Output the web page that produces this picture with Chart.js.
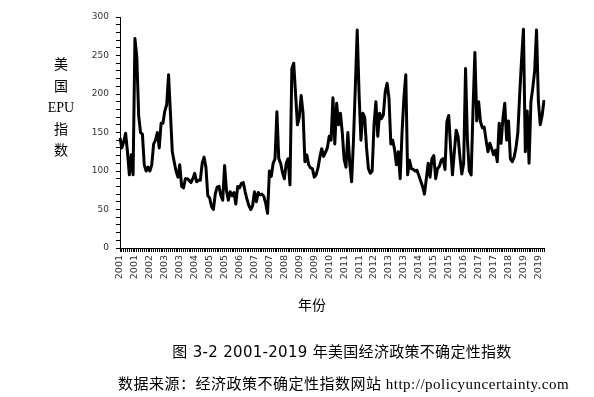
<!DOCTYPE html>
<html>
<head>
<meta charset="utf-8">
<script src="https://cdn.jsdelivr.net/npm/chart.js@4"></script>
<style>
  html, body { margin: 0; padding: 0; background: #fff; }
  #wrap { position: relative; width: 594px; height: 397px; }
  #wrap canvas { position: absolute; left: 0; top: 0; }
  .txt { position: absolute; color: #000; white-space: nowrap; }
  #ytitle { left: 36px; top: 54px; width: 50px; text-align: center; font: 14px "Liberation Serif", "Noto Sans CJK SC"; line-height: 21.5px; }
  #xtitle { left: 282px; top: 294px; width: 60px; text-align: center; font: 14px "Noto Sans CJK SC"; }
  #caption { left: 0; width: 684px; top: 340px; text-align: center; font: 15px "DejaVu Sans", "Noto Sans CJK SC"; letter-spacing: 0.3px; }
  #source { left: 118px; top: 372px; font: 15px "Liberation Serif", "Noto Sans CJK SC"; letter-spacing: 0.5px; }
</style>
</head>
<body>
<div id="wrap">
  <canvas id="epu-chart" width="594" height="397"></canvas>
  <div class="txt" id="ytitle">美<br>国<br>EPU<br>指<br>数</div>
  <div class="txt" id="xtitle">年份</div>
  <div class="txt" id="caption">图 3-2 2001-2019 年美国经济政策不确定性指数</div>
  <div class="txt" id="source">数据来源：经济政策不确定性指数网站 http://policyuncertainty.com</div>
</div>
<script>
(function () {
    'use strict';

    // Monthly US EPU index, Jan 2001 .. Dec 2019
    var epu2001 = [143, 130, 138, 149, 125, 95, 121, 95, 272, 248, 172, 150];
    var epu2002 = [148, 108, 100, 105, 100, 108, 135, 140, 150, 130, 162, 162];
    var epu2003 = [178, 186, 225, 175, 125, 112, 100, 92, 108, 80, 78, 90];
    var epu2004 = [90, 88, 85, 90, 97, 86, 88, 88, 110, 118, 105, 68];
    var epu2005 = [65, 54, 50, 70, 79, 80, 68, 62, 107, 75, 62, 73];
    var epu2006 = [68, 72, 57, 80, 78, 84, 85, 73, 63, 55, 50, 55];
    var epu2007 = [73, 60, 72, 69, 70, 67, 58, 45, 100, 93, 110, 116];
    var epu2008 = [177, 116, 110, 98, 90, 110, 116, 82, 233, 240, 200, 160];
    var epu2009 = [170, 198, 175, 112, 121, 108, 104, 103, 92, 95, 104, 118];
    var epu2010 = [129, 119, 124, 130, 145, 140, 195, 135, 188, 160, 175, 150];
    var epu2011 = [115, 105, 150, 110, 86, 140, 210, 283, 200, 140, 175, 170];
    var epu2012 = [130, 103, 97, 100, 160, 190, 145, 175, 168, 173, 203, 214];
    var epu2013 = [195, 135, 140, 128, 108, 125, 90, 150, 195, 225, 95, 114];
    var epu2014 = [103, 102, 100, 101, 94, 87, 80, 70, 90, 110, 92, 116];
    var epu2015 = [120, 90, 103, 106, 114, 116, 102, 164, 172, 130, 95, 125];
    var epu2016 = [153, 145, 118, 96, 110, 233, 140, 100, 95, 180, 254, 165];
    var epu2017 = [190, 164, 156, 157, 140, 125, 136, 129, 121, 127, 112, 162];
    var epu2018 = [136, 168, 188, 140, 165, 116, 112, 118, 130, 150, 200, 245];
    var epu2019 = [284, 125, 178, 110, 190, 208, 230, 283, 190, 160, 172, 192];

    // one label every 8 months, as on the original axis
    var tickLabels = ['2001', '2001', '2002', '2003', '2003', '2004', '2005', '2005', '2006', '2007',
        '2007', '2008', '2009', '2009', '2010', '2011', '2011', '2012', '2013', '2013',
        '2014', '2015', '2015', '2016', '2017', '2017', '2018', '2019', '2019'];
    var labelEvery = 8;

    var epu = [].concat(epu2001, epu2002, epu2003, epu2004, epu2005, epu2006, epu2007,
        epu2008, epu2009, epu2010, epu2011, epu2012, epu2013, epu2014, epu2015,
        epu2016, epu2017, epu2018, epu2019);

    var months = [];
    for (var y = 2001; y <= 2019; y++) {
        for (var m = 1; m <= 12; m++) {
            months.push(y + '-' + (m < 10 ? '0' + m : m));
        }
    }

    var axisGrid = { display: true, drawOnChartArea: false, drawTicks: true, tickLength: 4, color: '#000', lineWidth: 1 };
    var axisBorder = { display: true, color: '#000', width: 1 };

    new Chart(document.getElementById('epu-chart'), {
        type: 'line',
        data: {
            labels: months,
            datasets: [{
                data: epu,
                borderColor: '#000',
                borderWidth: 3,
                borderJoinStyle: 'round',
                pointRadius: 0,
                tension: 0,
                fill: false
            }]
        },
        options: {
            responsive: false,
            animation: false,
            layout: { padding: { left: 0, top: 17, right: 50, bottom: 0 } },
            plugins: {
                legend: { display: false },
                tooltip: { enabled: false }
            },
            scales: {
                x: {
                    offset: false,
                    grid: axisGrid,
                    border: axisBorder,
                    ticks: {
                        autoSkip: false,
                        minRotation: 90,
                        maxRotation: 90,
                        padding: 3,
                        color: '#333',
                        font: { family: 'DejaVu Sans', size: 9.5 },
                        callback: function (value, index) {
                            return index % labelEvery === 0 ? tickLabels[index / labelEvery] : '';
                        }
                    },
                    afterFit: function (scale) { scale.height = 149; }
                },
                y: {
                    min: 0,
                    max: 300,
                    grid: axisGrid,
                    border: axisBorder,
                    ticks: {
                        stepSize: 10,
                        autoSkip: false,
                        padding: 7,
                        color: '#333',
                        font: { family: 'DejaVu Sans', size: 9 },
                        callback: function (value) {
                            return value % 50 === 0 ? value : '';
                        }
                    },
                    afterFit: function (scale) { scale.width = 120; }
                }
            }
        }
    });
})();
</script>
</body>
</html>
